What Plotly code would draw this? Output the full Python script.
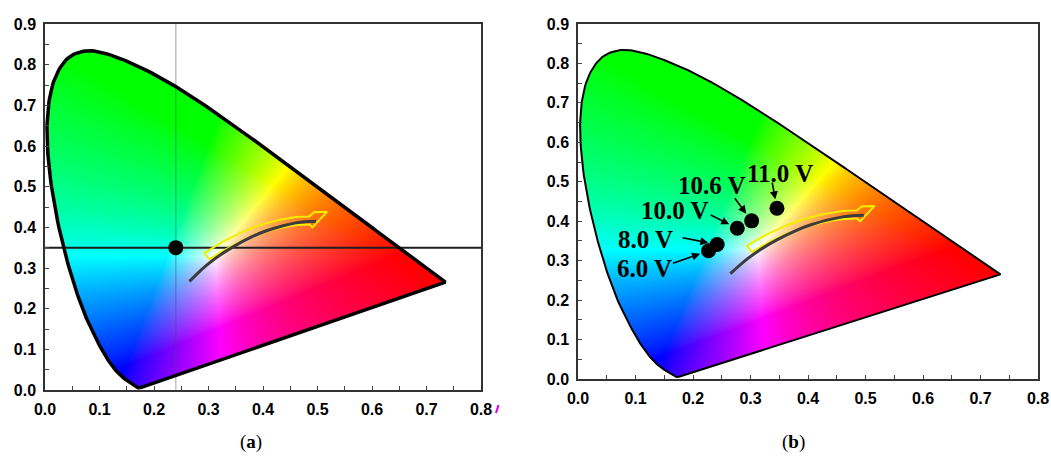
import base64
import struct
import zlib

import numpy as np
import plotly.graph_objects as go

# ---------------- data ----------------
# CIE 1931 2-degree spectral locus, 380-700 nm in 5 nm steps
locus_x = [0.1741, 0.1740, 0.1738, 0.1736, 0.1733, 0.1730, 0.1726, 0.1721, 0.1714, 0.1703,
           0.1689, 0.1669, 0.1644, 0.1611, 0.1566, 0.1510, 0.1440, 0.1355, 0.1241, 0.1096,
           0.0913, 0.0687, 0.0454, 0.0235, 0.0082, 0.0039, 0.0139, 0.0389, 0.0743, 0.1142,
           0.1547, 0.1929, 0.2296, 0.2658, 0.3016, 0.3373, 0.3731, 0.4087, 0.4441, 0.4788,
           0.5125, 0.5448, 0.5752, 0.6029, 0.6270, 0.6482, 0.6658, 0.6801, 0.6915, 0.7006,
           0.7079, 0.7140, 0.7190, 0.7230, 0.7260, 0.7283, 0.7300, 0.7311, 0.7320, 0.7327,
           0.7334, 0.7340, 0.7344, 0.7346, 0.7347]
locus_y = [0.0050, 0.0050, 0.0049, 0.0049, 0.0048, 0.0048, 0.0048, 0.0048, 0.0051, 0.0058,
           0.0069, 0.0086, 0.0109, 0.0138, 0.0177, 0.0227, 0.0297, 0.0399, 0.0578, 0.0868,
           0.1327, 0.2007, 0.2950, 0.4127, 0.5384, 0.6548, 0.7502, 0.8120, 0.8338, 0.8262,
           0.8059, 0.7816, 0.7543, 0.7243, 0.6923, 0.6589, 0.6245, 0.5896, 0.5547, 0.5202,
           0.4866, 0.4544, 0.4242, 0.3965, 0.3725, 0.3514, 0.3340, 0.3197, 0.3083, 0.2993,
           0.2920, 0.2859, 0.2809, 0.2770, 0.2740, 0.2717, 0.2700, 0.2689, 0.2680, 0.2673,
           0.2666, 0.2660, 0.2656, 0.2654, 0.2653]

# Planckian (black-body) locus drawn in both panels
planck_x = [0.265, 0.281, 0.295, 0.313, 0.345, 0.380, 0.405, 0.437, 0.460, 0.477, 0.497]
planck_y = [0.267, 0.288, 0.305, 0.324, 0.352, 0.377, 0.391, 0.404, 0.411, 0.414, 0.415]

# panel (a): single colour point
point_a_x = [0.24]
point_a_y = [0.35]

# panel (b): colour coordinates vs. driving voltage
voltages = ["6.0 V", "8.0 V", "10.0 V", "10.6 V", "11.0 V"]
cie_x = [0.227, 0.242, 0.277, 0.302, 0.346]
cie_y = [0.325, 0.341, 0.382, 0.401, 0.433]

tick_vals = [0.0, 0.1, 0.2, 0.3, 0.4, 0.5, 0.6, 0.7, 0.8, 0.9]
tick_text = ["0.0", "0.1", "0.2", "0.3", "0.4", "0.5", "0.6", "0.7", "0.8", "0.9"]
panel_labels = ["(<b>a</b>)", "(<b>b</b>)"]

# ---------------- layout geometry (pixels) ----------------
W, H = 1051, 456
PA = dict(l=45, r=481, t=24, b=390)
PB = dict(l=578, r=1038, t=24, b=379)
XR, YR = (0.0, 0.8), (0.0, 0.9)


def smooth_locus(xs, ys, per=10):
    P = np.column_stack([xs, ys])
    n = len(P)
    out = []
    for i in range(n - 1):
        p0 = P[max(i - 1, 0)]
        p1 = P[i]
        p2 = P[i + 1]
        p3 = P[min(i + 2, n - 1)]
        for t in np.linspace(0, 1, per, endpoint=False):
            t2, t3 = t * t, t * t * t
            pt = 0.5 * ((2 * p1) + (-p0 + p2) * t + (2 * p0 - 5 * p1 + 4 * p2 - p3) * t2
                        + (-p0 + 3 * p1 - 3 * p2 + p3) * t3)
            out.append(pt)
    out.append(P[-1])
    out = np.array(out)
    return out[:, 0], out[:, 1]


sm_x, sm_y = smooth_locus(locus_x, locus_y)


def png_data_uri(rgba):
    h, w, _ = rgba.shape
    raw = b"".join(b"\x00" + rgba[r].tobytes() for r in range(h))

    def chunk(t, d):
        c = struct.pack(">I", len(d)) + t + d
        return c + struct.pack(">I", zlib.crc32(t + d) & 0xFFFFFFFF)

    png = (b"\x89PNG\r\n\x1a\n"
           + chunk(b"IHDR", struct.pack(">IIBBBBB", w, h, 8, 6, 0, 0, 0))
           + chunk(b"IDAT", zlib.compress(raw, 9))
           + chunk(b"IEND", b""))
    return "data:image/png;base64," + base64.b64encode(png).decode()


def chromaticity_image(nx, ny):
    xs = XR[0] + (np.arange(nx) + 0.5) * (XR[1] - XR[0]) / nx
    ys = YR[1] - (np.arange(ny) + 0.5) * (YR[1] - YR[0]) / ny
    X, Y = np.meshgrid(xs, ys)
    lx, ly = sm_x, sm_y
    inside = np.zeros(X.shape, dtype=bool)
    for i in range(len(lx)):
        j = i - 1
        xi, yi, xj, yj = lx[i], ly[i], lx[j], ly[j]
        if yi == yj:
            continue
        cond = ((yi > Y) != (yj > Y)) & (X < (xj - xi) * (Y - yi) / (yj - yi) + xi)
        inside ^= cond
    Yc = np.maximum(Y, 1e-4)
    Xc = X / Yc
    Zc = (1 - X - Y) / Yc
    R = 3.2406 * Xc - 1.5372 - 0.4986 * Zc
    G = -0.9689 * Xc + 1.8758 + 0.0415 * Zc
    B = 0.0557 * Xc - 0.2040 + 1.0570 * Zc
    rgb = np.clip(np.stack([R, G, B], axis=-1), 0, None)
    rgb = rgb / np.maximum(rgb.max(axis=-1, keepdims=True), 1e-9)
    rgb = rgb ** 0.75
    out = np.zeros((ny, nx, 4), dtype=np.uint8)
    out[..., :3] = np.clip(rgb * 255, 0, 255).astype(np.uint8)
    out[..., 3] = np.where(inside, 255, 0).astype(np.uint8)
    return png_data_uri(out)


def arrow_outline(sx, sy, x0=0.305, x1=0.485, off0=7.0, off1=1.0, hw=4.0):
    t = np.linspace(x0, x1, 40)
    yy = np.interp(t, planck_x, planck_y)
    P = np.column_stack([t * sx, yy * sy])
    d = np.gradient(P, axis=0)
    d /= np.linalg.norm(d, axis=1)[:, None]
    nrm = np.column_stack([-d[:, 1], d[:, 0]])
    off = np.linspace(off0, off1, len(t))[:, None]
    C = P + nrm * off
    up = C + nrm * hw
    lo = C - nrm * hw
    E, dE, nE = C[-1], d[-1], nrm[-1]
    head = np.array([E - nE * 7 + dE * 3, E + nE * 8 + dE * 18, E + nE * 8 + dE * 5])
    pts = np.vstack([lo, head, up[::-1], lo[:1]])
    return pts[:, 0] / sx, pts[:, 1] / sy


fig = go.Figure()

panels = [(PA, "x", "y", 3.5), (PB, "x2", "y2", 2.0)]
images = []
for P, xa, ya, lw in panels:
    nx = P["r"] - P["l"]
    ny = P["b"] - P["t"]
    images.append(dict(source=chromaticity_image(nx, ny), xref=xa, yref=ya,
                       x=XR[0], y=YR[1], sizex=XR[1] - XR[0], sizey=YR[1] - YR[0],
                       xanchor="left", yanchor="top", sizing="stretch", layer="below"))

# ---- panel (a) crosshair ----
fig.add_trace(go.Scatter(x=[point_a_x[0], point_a_x[0]], y=[YR[0], YR[1]], mode="lines",
                         line=dict(color="rgba(70,80,90,0.35)", width=1.5),
                         xaxis="x", yaxis="y", hoverinfo="skip"))
fig.add_trace(go.Scatter(x=[XR[0], XR[1]], y=[point_a_y[0], point_a_y[0]], mode="lines",
                         line=dict(color="#1e1e1e", width=2),
                         xaxis="x", yaxis="y", hoverinfo="skip"))

for P, xa, ya, lw in panels:
    sx = (P["r"] - P["l"]) / (XR[1] - XR[0])
    sy = (P["b"] - P["t"]) / (YR[1] - YR[0])
    fig.add_trace(go.Scatter(x=list(sm_x) + [sm_x[0]], y=list(sm_y) + [sm_y[0]], mode="lines",
                             line=dict(color="black", width=lw), xaxis=xa, yaxis=ya,
                             hoverinfo="skip"))
    axx, axy = arrow_outline(sx, sy)
    fig.add_trace(go.Scatter(x=axx, y=axy, mode="lines",
                             line=dict(color="#f2ee00", width=2), xaxis=xa, yaxis=ya,
                             hoverinfo="skip"))
    fig.add_trace(go.Scatter(x=planck_x, y=planck_y, mode="lines",
                             line=dict(color="#3c3c3c", width=3, shape="spline"),
                             xaxis=xa, yaxis=ya, hoverinfo="skip"))

fig.add_trace(go.Scatter(x=point_a_x, y=point_a_y, mode="markers",
                         marker=dict(color="black", size=15), xaxis="x", yaxis="y"))

# ---- panel (b) ----
fig.add_trace(go.Scatter(x=cie_x, y=cie_y, mode="markers",
                         marker=dict(color="black", size=15), xaxis="x2", yaxis="y2",
                         text=voltages))

label_shift = [(-64, -18), (-72, 5), (-62, 18), (-40, 35), (3, 35)]
arrow_tail = [(-37, 13), (-36, -7), (-28, -14), (-18, -24), (-5, -27)]
annotations = []
for v, xv, yv, (xs_, ys_), (ax_, ay_) in zip(voltages, cie_x, cie_y, label_shift, arrow_tail):
    annotations.append(dict(x=xv, y=yv, xref="x2", yref="y2", text="<b>" + v + "</b>",
                            showarrow=False, xshift=xs_, yshift=ys_,
                            font=dict(family="Liberation Serif", size=25, color="black")))
    annotations.append(dict(x=xv, y=yv, xref="x2", yref="y2", text="", showarrow=True,
                            ax=ax_, ay=ay_, axref="pixel", ayref="pixel",
                            arrowhead=2, arrowsize=1, arrowwidth=1.6, arrowcolor="black",
                            standoff=9))

for lab, cx in zip(panel_labels, [251, 793]):
    annotations.append(dict(x=cx / W, y=1 - 442 / H, xref="paper", yref="paper", text=lab,
                            showarrow=False, xanchor="center", yanchor="middle",
                            font=dict(family="Liberation Serif", size=19, color="black")))

tick_font = dict(family="Liberation Sans, Arial", size=16, color="black", weight="bold")


def axis(domain, anchor, rng):
    return dict(domain=domain, anchor=anchor, range=list(rng), autorange=False,
                tickmode="array", tickvals=tick_vals, ticktext=tick_text,
                ticks="inside", ticklen=4, tickwidth=1.2, tickcolor="#444",
                minor=dict(ticks="inside", ticklen=4, tickwidth=1.2, tickcolor="#444",
                           dtick=0.05, tick0=0, showgrid=False),
                showline=True, linecolor="#333", linewidth=1.5, mirror=True,
                showgrid=False, zeroline=False, tickfont=tick_font, fixedrange=True,
                automargin=False, ticklabelstandoff=4)


fig.update_layout(
    width=W, height=H, margin=dict(l=0, r=0, t=0, b=0, pad=0, autoexpand=False),
    paper_bgcolor="white", plot_bgcolor="rgba(0,0,0,0)", showlegend=False,
    xaxis=axis([PA["l"] / W, PA["r"] / W], "y", XR),
    yaxis=axis([1 - PA["b"] / H, 1 - PA["t"] / H], "x", YR),
    xaxis2=axis([PB["l"] / W, PB["r"] / W], "y2", XR),
    yaxis2=axis([1 - PB["b"] / H, 1 - PB["t"] / H], "x2", YR),
    images=images, annotations=annotations,
    shapes=[dict(type="line", xref="paper", yref="paper",
                 x0=496 / W, y0=1 - 413 / H, x1=498.5 / W, y1=1 - 405 / H,
                 line=dict(color="#e000e0", width=2))],
)

fig.write_html("out.html", config={"displayModeBar": False},
               post_script="document.body.style.margin='0px';"
                           "document.body.style.overflow='hidden';")
